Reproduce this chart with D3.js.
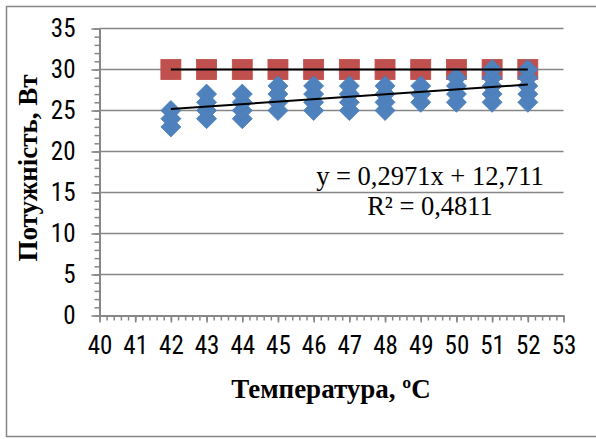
<!DOCTYPE html>
<html>
<head>
<meta charset="utf-8">
<script src="https://cdn.jsdelivr.net/npm/d3@7"></script>
<style>
  body { margin: 0; background: #fff; }
  svg { display: block; }
</style>
</head>
<body>
<div id="chart"></div>
<script>
// Data
const temperatures = [42, 43, 44, 45, 46, 47, 48, 49, 50, 51, 52];
const measuredPower = [
    [23, 24, 25],
    [24, 25, 26, 27],
    [24, 25, 26, 27],
    [25, 26, 27, 28],
    [25, 26, 27, 28],
    [25, 26, 27, 28],
    [25, 26, 27, 28],
    [26, 27, 28],
    [26, 27, 28, 29],
    [26, 27, 28, 29, 30],
    [26, 27, 28, 29, 30]
];
const ratedPower = [30, 30, 30, 30, 30, 30, 30, 30, 30, 30, 30];
const measuredTrend = { slope: 0.2971, intercept: 12.711 };
const ratedTrend = { slope: 0, intercept: 30 };
const xTicks = d3.range(40, 54, 1);
const yTicks = d3.range(0, 36, 5);
const equationLines = ['y = 0,2971x + 12,711', 'R² = 0,4811'];
const xTitle = 'Температура, ºC';
const yTitle = 'Потужність, Вт';

const width = 596, height = 439;
const plot = { left: 99.5, right: 563.5, top: 28.5, bottom: 315.5 };
const axisColor = '#868686';
const numFont = '"Liberation Sans Narrow", "Roboto Condensed", "Liberation Sans", sans-serif';
const serifFont = '"Liberation Serif", "Times New Roman", serif';

const svg = d3.select('#chart').append('svg').attr('width', width).attr('height', height);

// Outer chart border
svg.append('rect')
    .attr('x', 6.5).attr('y', 6.5).attr('width', 600).attr('height', 430)
    .attr('fill', 'none').attr('stroke', axisColor).attr('stroke-width', 1.5);

// Scales
const xScale = d3.scaleLinear([40, 53], [plot.left, plot.right]);
const yScale = d3.scaleLinear([0, 35], [plot.bottom, plot.top]);

// Gridlines
svg.append('g').selectAll('line').data(yTicks.filter(t => t > 0))
    .join('line')
    .attr('x1', plot.left).attr('x2', plot.right)
    .attr('y1', d => yScale(d)).attr('y2', d => yScale(d))
    .attr('stroke', axisColor).attr('stroke-width', 1.6);

// Y axis with minor ticks
const yMinor = d3.axisLeft(yScale).tickValues(d3.range(0, 36, 1)).tickSize(5).tickFormat('');
svg.append('g').attr('transform', `translate(${plot.left}, 0)`).call(yMinor)
    .call(g => g.selectAll('line').attr('stroke', axisColor).attr('stroke-width', 1.5))
    .call(g => g.select('.domain').remove());
const yAxis = d3.axisLeft(yScale).tickValues(yTicks).tickSize(8).tickPadding(16).tickSizeOuter(0);
svg.append('g').attr('transform', `translate(${plot.left}, 0)`).call(yAxis)
    .call(g => g.selectAll('line').attr('stroke', axisColor).attr('stroke-width', 1.6))
    .call(g => g.select('.domain').attr('stroke', axisColor).attr('stroke-width', 2))
    .call(g => g.selectAll('text').attr('font-family', numFont).attr('font-size', 25).attr('fill', '#000'));

// X axis with minor ticks
const xMinor = d3.axisBottom(xScale).tickValues(d3.range(40, 53.01, 0.2)).tickSize(5).tickFormat('');
svg.append('g').attr('transform', `translate(0, ${plot.bottom})`).call(xMinor)
    .call(g => g.selectAll('line').attr('stroke', axisColor).attr('stroke-width', 1.5))
    .call(g => g.select('.domain').remove());
const xAxis = d3.axisBottom(xScale).tickValues(xTicks).tickSize(7).tickPadding(14).tickSizeOuter(0);
svg.append('g').attr('transform', `translate(0, ${plot.bottom})`).call(xAxis)
    .call(g => g.selectAll('line').attr('stroke', axisColor).attr('stroke-width', 1.6))
    .call(g => g.select('.domain').attr('stroke', axisColor).attr('stroke-width', 2))
    .call(g => g.selectAll('text').attr('font-family', numFont).attr('font-size', 25).attr('fill', '#000'));

// Rated power markers (squares)
svg.append('g').selectAll('rect').data(temperatures.map((t, i) => [t, ratedPower[i]]))
    .join('rect')
    .attr('x', d => xScale(d[0]) - 10).attr('y', d => yScale(d[1]) - 10)
    .attr('width', 20).attr('height', 20)
    .attr('fill', '#C0504D').attr('stroke', '#BE4B48').attr('stroke-width', 0.8);

// Measured power markers (diamonds)
const measuredPoints = temperatures.flatMap((t, i) => measuredPower[i].map(p => [t, p]));
const diamond = d3.symbol(d3.symbolSquare, 200);
svg.append('g').selectAll('path').data(measuredPoints)
    .join('path')
    .attr('d', diamond)
    .attr('transform', d => `translate(${xScale(d[0])}, ${yScale(d[1])}) rotate(45)`)
    .attr('fill', '#4F81BD').attr('stroke', '#4A7EBB').attr('stroke-width', 0.8);

// Trendlines
const xExtent = d3.extent(temperatures);
const trendLine = d3.line().x(d => xScale(d[0])).y(d => yScale(d[1]));
[ratedTrend, measuredTrend].forEach(tr => {
    svg.append('path')
        .attr('d', trendLine(xExtent.map(x => [x, tr.slope * x + tr.intercept])))
        .attr('fill', 'none').attr('stroke', '#000').attr('stroke-width', 2);
});

// Equation label
svg.append('g').selectAll('text').data(equationLines)
    .join('text')
    .attr('x', 430).attr('y', (d, i) => 185 + i * 30)
    .attr('text-anchor', 'middle')
    .attr('font-family', serifFont).attr('font-size', 26.5)
    .text(d => d);

// Axis titles
svg.append('text')
    .attr('x', 331).attr('y', 398)
    .attr('text-anchor', 'middle')
    .attr('font-family', serifFont).attr('font-size', 27).attr('font-weight', 'bold')
    .text(xTitle);
svg.append('text')
    .attr('transform', 'translate(37, 168) rotate(-90)')
    .attr('text-anchor', 'middle')
    .attr('font-family', serifFont).attr('font-size', 27).attr('font-weight', 'bold')
    .text(yTitle);
</script>
</body>
</html>
